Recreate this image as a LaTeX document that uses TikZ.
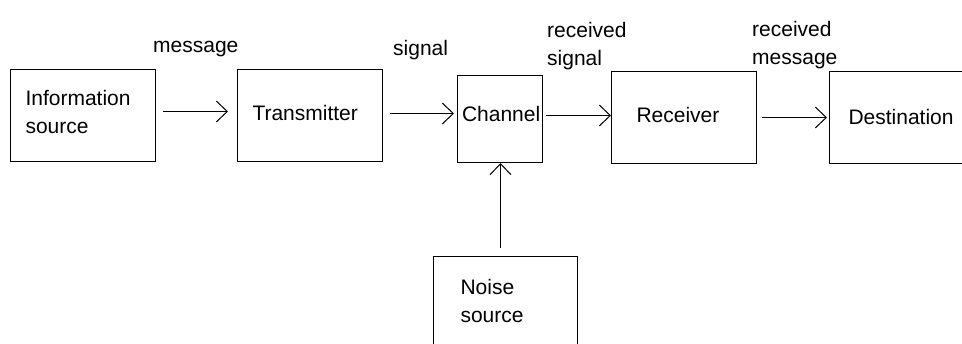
\documentclass[tikz,border=0pt]{standalone}
\usepackage{fontspec}
\setmainfont{Liberation Sans}
\usetikzlibrary{arrows.meta}
\begin{document}
\begin{tikzpicture}[x=1pt,y=-1pt,
  every node/.style={font=\fontsize{21}{28}\selectfont},
  box/.style={draw, line width=1pt, align=left, inner ysep=0pt, anchor=north west},
  lbl/.style={inner sep=0pt, anchor=base west, align=left},
  arr/.style={-{Straight Barb[length=11pt,width=21pt,line width=1pt]}, line width=1pt}]
\useasboundingbox (0,0) rectangle (962,343);
\clip (0,0) rectangle (962,343);
\node[box, text width=115pt, inner xsep=15pt, minimum height=92pt, text depth=36pt] (info) at (10,69) {Information\\source};
\node[box, text width=115pt, inner xsep=15pt, minimum height=92pt, text height=15pt, text depth=5pt] (trans) at (237,69) {Transmitter};
\node[box, text width=76pt, inner xsep=4.5pt, minimum height=87pt, text height=15pt, text depth=10.6pt] (chan) at (457,75) {Channel};
\node[box, text width=95pt, inner xsep=25pt, minimum height=92pt, text height=15pt, text depth=4.4pt] (rec) at (611,71) {Receiver};
\node[box, text width=122pt, inner xsep=19pt, minimum height=92pt, text height=15pt, text depth=1pt] (dest) at (829,71) {Destination};
\node[box, text width=90pt, inner xsep=27pt, minimum height=100pt, text depth=40pt] (noise) at (433,256) {Noise\\source};
\node[lbl] (lmsg) at (153,52) {message};
\node[lbl] (lsig) at (393,55) {signal};
\node[lbl] (lrsig) at (547,65.5) {received\\signal};
\node[lbl] (lrmsg) at (752,64) {received\\message};
\draw[arr, shorten <=7pt, shorten >=9pt] ([yshift=4pt]info.east) -- ([yshift=4pt]info.east -| trans.west);
\draw[arr, shorten <=7pt, shorten >=3pt] ([yshift=2pt]trans.east) -- ([yshift=2pt]trans.east -| chan.west);
\draw[arr, shorten <=3pt] ([yshift=3.5pt]chan.east) -- ([yshift=3.5pt]chan.east -| rec.west);
\draw[arr, shorten <=5pt, shorten >=2pt] (rec.east) -- (rec.east -| dest.west);
\draw[arr, shorten <=8pt] ([xshift=-5pt]noise.north) -- ([xshift=-5pt]noise.north |- chan.south);
\end{tikzpicture}
\end{document}
